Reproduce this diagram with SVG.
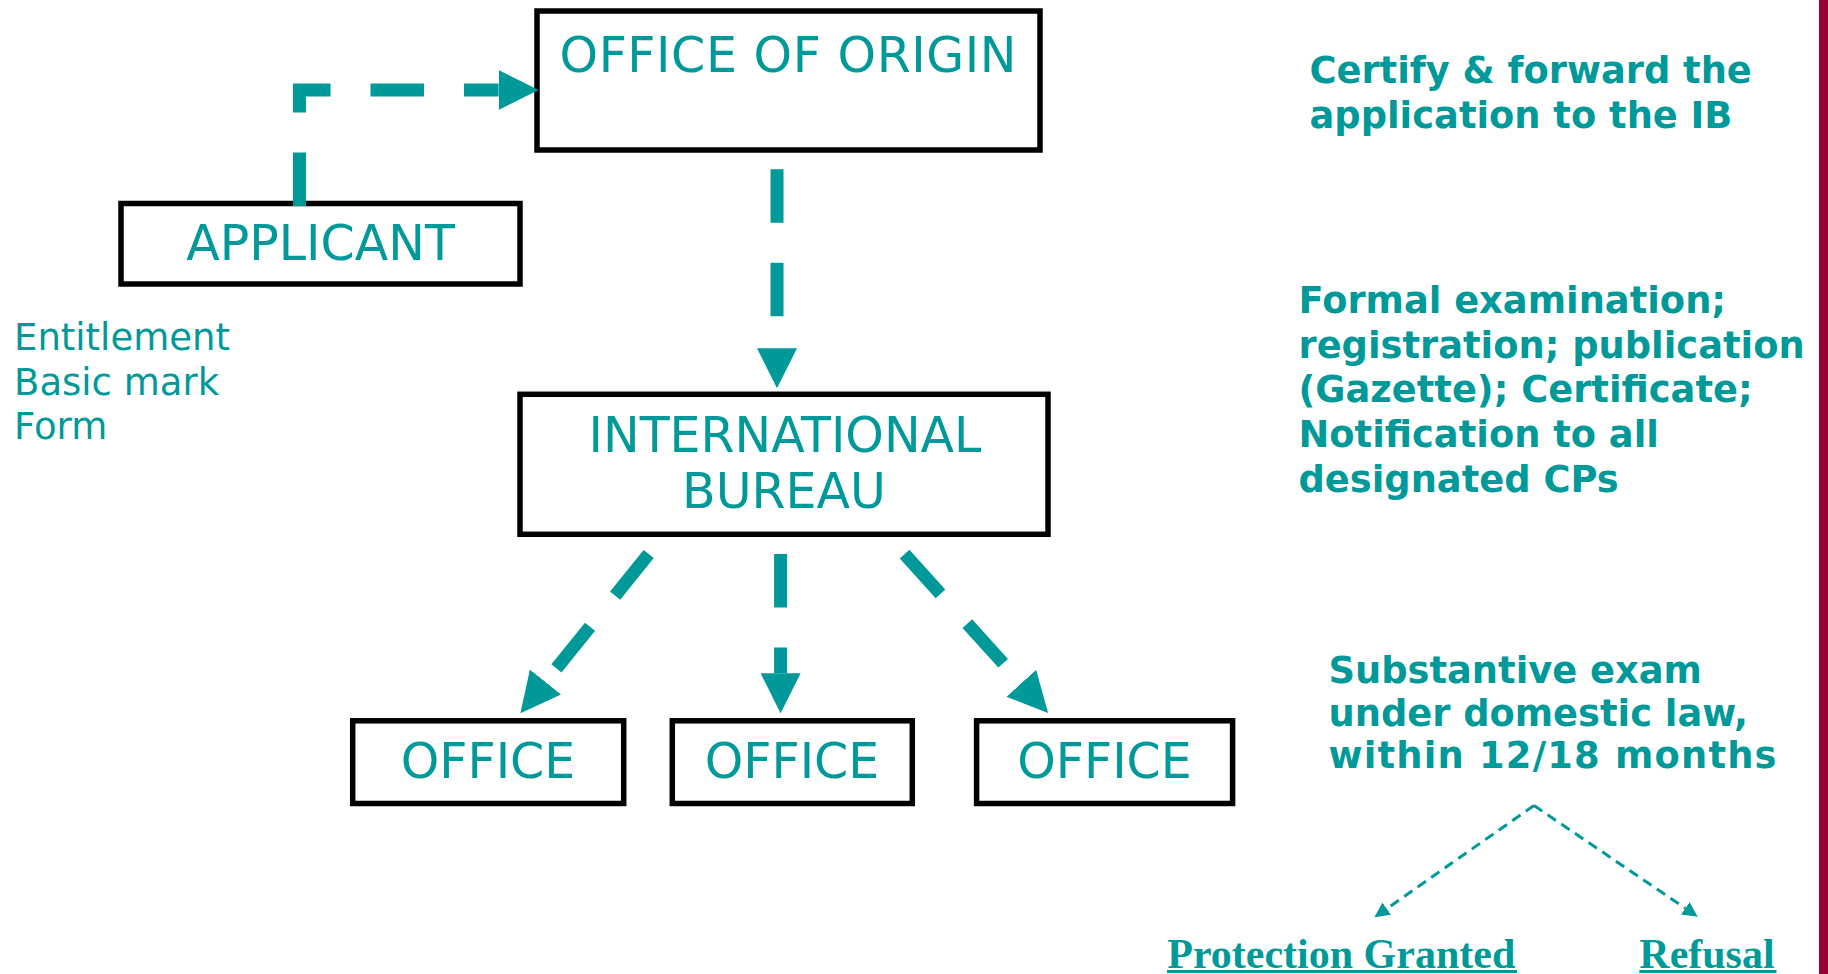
<svg xmlns="http://www.w3.org/2000/svg" width="1828" height="974" viewBox="0 0 1828 974">
<style>
.box{fill:#fff;stroke:#000;stroke-width:5.5}
.lbl{font-family:"DejaVu Sans","Liberation Sans",sans-serif;font-size:49px;fill:#009999;text-anchor:middle}
.note{font-family:"DejaVu Sans","Liberation Sans",sans-serif;font-size:37px;fill:#009999}
.bold{font-family:"DejaVu Sans","Liberation Sans",sans-serif;font-size:36.8px;font-weight:bold;fill:#009999}
.res{font-family:"Liberation Serif","Times New Roman",serif;font-size:42px;font-weight:bold;fill:#009999}
.flow{fill:none;stroke:#009999;stroke-width:13;stroke-dasharray:53.5 40;stroke-linejoin:miter;marker-end:url(#ah)}
.thin{fill:none;stroke:#009999;stroke-width:3;stroke-dasharray:10 6.5;marker-end:url(#ahs)}
.ul{stroke:#009999;stroke-width:3}
</style>
<defs>
<marker id="ah" markerUnits="userSpaceOnUse" markerWidth="40" markerHeight="40" viewBox="0 0 40 40" refX="0" refY="20" orient="auto"><path d="M0,0 L40,20 L0,40 z" fill="#009999"/></marker>
<marker id="ahs" markerUnits="userSpaceOnUse" markerWidth="15" markerHeight="15" viewBox="0 0 15 15" refX="0" refY="7.5" orient="auto"><path d="M0,0 L15,7.5 L0,15 z" fill="#009999"/></marker>
</defs>
<rect x="0" y="0" width="1828" height="974" fill="#fff"/>
<rect x="1819" y="0" width="9" height="974" fill="#990033"/>

<g id="office-of-origin"><rect class="box" x="537" y="11" width="503" height="139"/><text class="lbl" x="788" y="71.5" textLength="457" lengthAdjust="spacing">OFFICE OF ORIGIN</text></g>
<g id="applicant"><rect class="box" x="121" y="203.5" width="399" height="80.5"/><text class="lbl" x="320.5" y="260">APPLICANT</text></g>
<g id="international-bureau"><rect class="box" x="520" y="394.3" width="528" height="140"/><text class="lbl" x="785" y="451.5">INTERNATIONAL</text><text class="lbl" x="784" y="508.3">BUREAU</text></g>
<g id="office-1"><rect class="box" x="352.7" y="720.8" width="271" height="82.7"/><text class="lbl" x="488" y="777.7">OFFICE</text></g>
<g id="office-2"><rect class="box" x="672.3" y="720.8" width="240" height="82.7"/><text class="lbl" x="792" y="777.7">OFFICE</text></g>
<g id="office-3"><rect class="box" x="976.6" y="720.8" width="256" height="82.7"/><text class="lbl" x="1104.5" y="777.7">OFFICE</text></g>

<g id="applicant-notes"><text class="note" x="14" y="350">Entitlement</text><text class="note" x="14" y="395">Basic mark</text><text class="note" x="14" y="439">Form</text></g>
<g id="origin-note"><text class="bold" x="1309.5" y="83.3">Certify &amp; forward the</text><text class="bold" x="1309.5" y="127.7">application to the IB</text></g>
<g id="ib-note"><text class="bold" x="1298.5" y="313.3">Formal examination;</text><text class="bold" x="1298.5" y="358">registration; publication</text><text class="bold" x="1298.5" y="402">(Gazette); Certificate;</text><text class="bold" x="1298.5" y="446.7">Notification to all</text><text class="bold" x="1298.5" y="491.5">designated CPs</text></g>
<g id="office-note"><text class="bold" x="1328.5" y="683.3">Substantive exam</text><text class="bold" x="1328.5" y="726">under domestic law,</text><text class="bold" x="1328.5" y="768.3" textLength="448" lengthAdjust="spacing">within 12/18 months</text></g>
<g id="protection-granted"><text class="res" x="1167.3" y="968.3">Protection Granted</text><line class="ul" x1="1167" y1="971.5" x2="1517" y2="971.5"/></g>
<g id="refusal"><text class="res" x="1639.3" y="968.3">Refusal</text><line class="ul" x1="1639.3" y1="971.5" x2="1776.5" y2="971.5"/></g>

<g id="connectors">
<path class="flow" d="M299.5,206 V90 H498.6"/>
<path class="flow" d="M777,169.3 V348.3"/>
<path class="flow" d="M780.6,554 V673.3"/>
<path class="flow" d="M648.7,554 L545.5,682"/>
<path class="flow" d="M904.6,554.2 L1021.3,683.3"/>
<path class="thin" d="M1534,805.5 L1386.7,908.7"/>
<path class="thin" d="M1534,805.5 L1685.3,908.3"/>
</g>
</svg>
